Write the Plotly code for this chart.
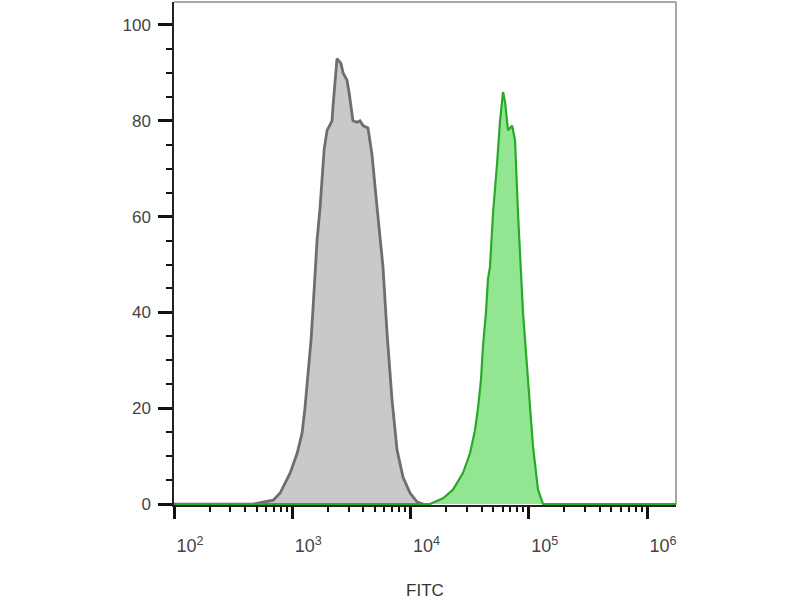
import plotly.graph_objects as go

# Grey (control) histogram: FITC intensity vs count (% of max)
grey_x = [100, 470, 690, 790, 960, 1100, 1210, 1280, 1360, 1440, 1500, 1560, 1620, 1720,
          1860, 1970, 2170, 2210, 2390, 2580, 2690, 2900, 3020, 3260, 3530, 3740, 3970,
          4370, 4720, 5210, 5850, 6330, 6980, 7690, 8650, 9910, 11400, 12800]
grey_y = [0, 0, 0.8, 2.3, 6.5, 10.6, 14.8, 20, 27.3, 34, 41, 48, 55, 62,
          74, 78, 80, 83, 93, 92, 90, 88.5, 86, 80, 79.7, 80, 79,
          78.5, 73, 62, 49.5, 35.7, 21.7, 11.3, 5.6, 2.3, 0.4, 0]

# Green (stained) histogram
green_x = [100, 14620, 18830, 22870, 27790, 31850, 35090, 37200, 39440, 41010, 43470, 45190,
           46980, 49850, 53910, 57150, 60590, 62980, 66760, 72170, 76510, 81100, 89340,
           98560, 108600, 119700, 132000, 1800000]
green_y = [0, 0, 1.2, 3, 6.5, 10.6, 15.4, 20, 26, 33, 40, 47,
           49.5, 60.7, 71, 80, 86, 84, 78, 79, 76, 60.7, 40,
           26, 12, 3, 0, 0]

x_tick_vals = [100, 1000, 10000, 100000, 1000000]
x_tick_text = ["10<sup>2</sup>", "10<sup>3</sup>", "10<sup>4</sup>", "10<sup>5</sup>", "10<sup>6</sup>"]
x_minor_vals = [m * d for d in [100, 1000, 10000, 100000] for m in range(2, 10)]
y_tick_vals = [0, 20, 40, 60, 80, 100]

fig = go.Figure()
fig.add_trace(go.Scatter(x=grey_x, y=grey_y, mode="lines", fill="tozeroy",
                         line=dict(color="#6e6e6e", width=2.8),
                         fillcolor="#c9c9c9", hoverinfo="skip"))
fig.add_trace(go.Scatter(x=green_x, y=green_y, mode="lines", fill="tozeroy",
                         line=dict(color="#28aa28", width=2.2),
                         fillcolor="rgb(146,230,146)", hoverinfo="skip"))

fig.update_layout(
    width=800, height=600,
    margin=dict(l=174, r=124, t=2, b=95),
    paper_bgcolor="white", plot_bgcolor="white",
    showlegend=False,
    font=dict(family="Liberation Sans, Arial, sans-serif", color="#444", size=16),
    xaxis=dict(
        type="log", range=[2, 6.245], automargin=False,
        tickvals=x_tick_vals, ticktext=x_tick_text,
        ticks="outside", ticklen=12, tickwidth=3, tickcolor="#111",
        tickfont=dict(size=18, color="#444"),
        ticklabelshift=16, ticklabelstandoff=12,
        showline=True, linecolor="#222", linewidth=1.5,
        showgrid=False, zeroline=False,
        minor=dict(tickvals=x_minor_vals, ticks="outside", ticklen=5,
                   tickwidth=1.5, tickcolor="#111", showgrid=False),
        title=dict(text="FITC", font=dict(size=17, color="#333"), standoff=36),
    ),
    yaxis=dict(
        range=[-0.2, 104.8], automargin=False,
        tickvals=y_tick_vals,
        ticks="outside", ticklen=14, tickwidth=3, tickcolor="#111",
        tickfont=dict(size=17, color="#444"),
        ticklabelstandoff=4,
        showline=True, linecolor="#222", linewidth=1.5,
        showgrid=False, zeroline=False,
        minor=dict(dtick=5, tick0=0, ticks="outside", ticklen=6,
                   tickwidth=1.5, tickcolor="#111", showgrid=False),
    ),
    shapes=[
        dict(type="line", xref="paper", yref="paper", x0=0, x1=1, y0=1, y1=1,
             line=dict(color="#8a8a8a", width=1.5)),
        dict(type="line", xref="paper", yref="paper", x0=1, x1=1, y0=0, y1=1,
             line=dict(color="#8a8a8a", width=1.5)),
    ],
)

fig.write_html("out.html",
               config={"displayModeBar": False},
               post_script="document.body.style.margin='0';document.body.style.overflow='hidden';")
